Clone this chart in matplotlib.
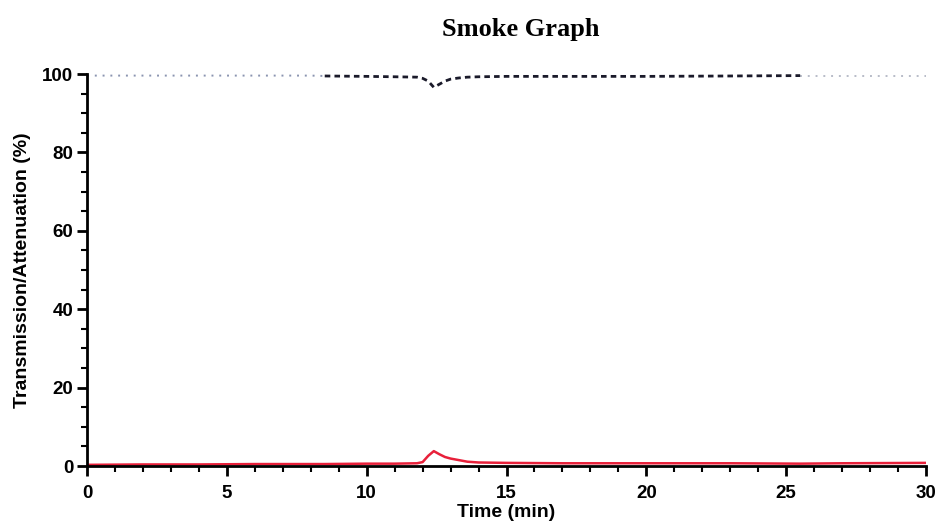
import matplotlib
matplotlib.use("Agg")
import matplotlib.pyplot as plt
from matplotlib.ticker import MultipleLocator

# time (min)
time_min = [0, 2, 4, 6, 8, 8.5, 10, 11, 11.8, 12.0, 12.2, 12.4, 12.6, 12.8,
            13.0, 13.3, 13.6, 14, 15, 17, 20, 23, 25.5, 27, 30]
transmission = [99.6, 99.6, 99.6, 99.6, 99.6, 99.5, 99.4, 99.3, 99.2, 98.9, 98.2, 96.6,
                97.4, 98.2, 98.7, 99.0, 99.2, 99.3, 99.4, 99.4, 99.4, 99.5, 99.6, 99.6, 99.6]
attenuation = [0.3, 0.4, 0.4, 0.5, 0.5, 0.5, 0.6, 0.6, 0.7, 1.0, 2.6, 3.8,
               3.0, 2.3, 1.9, 1.5, 1.1, 0.9, 0.8, 0.7, 0.7, 0.7, 0.6, 0.7, 0.8]

# which samples of the transmission trace are drawn dark
dark_start, dark_end = 5, 22

plt.rcParams['font.family'] = ['Liberation Sans', 'DejaVu Sans']
fig = plt.figure(figsize=(9.4, 5.28), dpi=100)
ax = fig.add_axes([0.0926, 0.1174, 0.8925, 0.7424])

ax.plot(time_min[:dark_start + 1], transmission[:dark_start + 1], color='#8a94b0',
        linestyle=(0, (1, 3)), linewidth=1.4)
ax.plot(time_min[dark_end:], transmission[dark_end:], color='#b8bcc8',
        linestyle=(0, (1, 3)), linewidth=1.4)
ax.plot(time_min[dark_start:dark_end + 1], transmission[dark_start:dark_end + 1],
        color='#1a1a2a', linestyle=(0, (2, 1.5)), linewidth=2.0)
ax.plot(time_min, attenuation, color='#e8203a', linewidth=1.8)

ax.set_xlim(0, 30)
ax.set_ylim(0, 100)
ax.xaxis.set_major_locator(MultipleLocator(5))
ax.xaxis.set_minor_locator(MultipleLocator(1))
ax.yaxis.set_major_locator(MultipleLocator(20))
ax.yaxis.set_minor_locator(MultipleLocator(5))
ax.spines['top'].set_visible(False)
ax.spines['right'].set_visible(False)
for s in ['left', 'bottom']:
    ax.spines[s].set_linewidth(2)
ax.tick_params(which='major', length=7, width=2, labelsize=13.5, pad=3)
ax.tick_params(axis='x', which='major', pad=7)
ax.tick_params(which='minor', length=4, width=1.5)
for lab in ax.get_xticklabels() + ax.get_yticklabels():
    lab.set_fontweight('bold')

ax.set_xlabel('Time (min)', fontsize=14, fontweight='bold', labelpad=1)
ax.set_ylabel('Transmission/Attenuation (%)', fontsize=14, fontweight='bold', labelpad=8)
fig.text(0.554, 0.945, 'Smoke Graph', ha='center', va='center', fontsize=19,
         fontweight='bold', family=['Liberation Serif', 'DejaVu Serif'])

fig.savefig('out.png', dpi=100)
